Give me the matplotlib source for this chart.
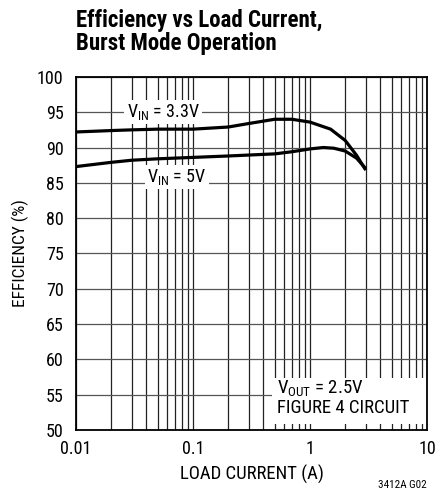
"""
Efficiency vs Load Current, Burst Mode Operation
"""

import matplotlib
matplotlib.use("Agg")
import matplotlib.pyplot as plt
from matplotlib import font_manager as fm
from matplotlib.patches import Rectangle
from matplotlib.ticker import FixedLocator, LogLocator, NullFormatter

# condensed sans if there is one, else Liberation Sans
prefs = ['Roboto Condensed', 'Archivo Narrow', 'Barlow Condensed', 'Liberation Sans', 'DejaVu Sans']
avail = {f.name for f in fm.fontManager.ttflist}
FONT = [p for p in prefs if p in avail]
plt.rcParams['font.family'] = FONT
plt.rcParams['mathtext.fontset'] = 'custom'
plt.rcParams['mathtext.rm'] = FONT[0]

# curve data
load_33 = [0.01, 0.02, 0.03, 0.05, 0.1, 0.2, 0.3, 0.5, 0.7, 1.0, 1.5, 2.0, 2.5, 3.0]
eff_33 = [92.2, 92.4, 92.5, 92.6, 92.6, 92.9, 93.4, 94.0, 94.0, 93.6, 92.6, 91.0, 88.9, 86.8]

load_5 = [0.01, 0.02, 0.03, 0.05, 0.1, 0.2, 0.5, 0.7, 1.0, 1.3, 1.6, 2.0, 2.5, 3.0]
eff_5 = [87.3, 87.9, 88.2, 88.4, 88.6, 88.8, 89.1, 89.4, 89.8, 90.0, 89.9, 89.5, 88.5, 87.0]

x_ticks = [0.01, 0.1, 1, 10]
x_tick_labels = ['0.01', '0.1', '1', '10']
y_ticks = list(range(50, 101, 5))

fig = plt.figure(figsize=(4.37, 4.96), dpi=100)
ax = fig.add_axes([0.174, 0.133, 0.803, 0.712])

ax.plot(load_33, eff_33, color='black', lw=2.3, zorder=4, solid_capstyle='butt')
ax.plot(load_5, eff_5, color='black', lw=2.3, zorder=4, solid_capstyle='butt')

ax.set_xscale('log')
ax.set_xlim(0.01, 10)
ax.set_ylim(50, 100)
ax.xaxis.set_major_locator(FixedLocator(x_ticks))
ax.set_xticklabels(x_tick_labels)
ax.xaxis.set_minor_locator(LogLocator(base=10, subs=range(2, 10)))
ax.xaxis.set_minor_formatter(NullFormatter())
ax.set_yticks(y_ticks)

ax.grid(True, which='both', axis='x', color='#222222', lw=0.9)
ax.grid(True, which='major', axis='y', color='#555555', lw=0.9)
ax.tick_params(which='both', length=0, labelsize=13)
ax.tick_params(axis='x', pad=7)
ax.tick_params(axis='y', pad=9)
for s in ax.spines.values():
    s.set_linewidth(1.3)

ax.set_xlabel('LOAD CURRENT (A)', fontsize=13.5, labelpad=5)
ax.set_ylabel('EFFICIENCY (%)', fontsize=12.5, labelpad=6)

box = dict(facecolor='white', edgecolor='none', pad=1.5)
ax.text(0.0554, 95, r'V$_{\mathregular{IN}}$ = 3.3V', fontsize=13,
        ha='center', va='center', bbox=box, zorder=3)
ax.text(0.073, 85.8, r'V$_{\mathregular{IN}}$ = 5V', fontsize=13,
        ha='center', va='center', bbox=box, zorder=3)

# white panel behind the circuit note, running up to the right frame
ax.add_patch(Rectangle((0.558, 0.018), 0.442, 0.13, transform=ax.transAxes,
                       facecolor='white', edgecolor='none', zorder=2.5))
ax.text(0.52, 54.6, 'V$_{\\mathregular{OUT}}$ = 2.5V\nFIGURE 4 CIRCUIT', fontsize=13.5,
        ha='left', va='center', linespacing=1.0, zorder=3)

fig.text(0.174, 0.982, 'Efficiency vs Load Current,\nBurst Mode Operation',
         fontsize=16.5, fontweight='bold', ha='left', va='top', linespacing=1.0)
fig.text(0.977, 0.012, '3412A G02', fontsize=8, ha='right', va='bottom')

plt.savefig('out.png', dpi=100)
plt.close()
